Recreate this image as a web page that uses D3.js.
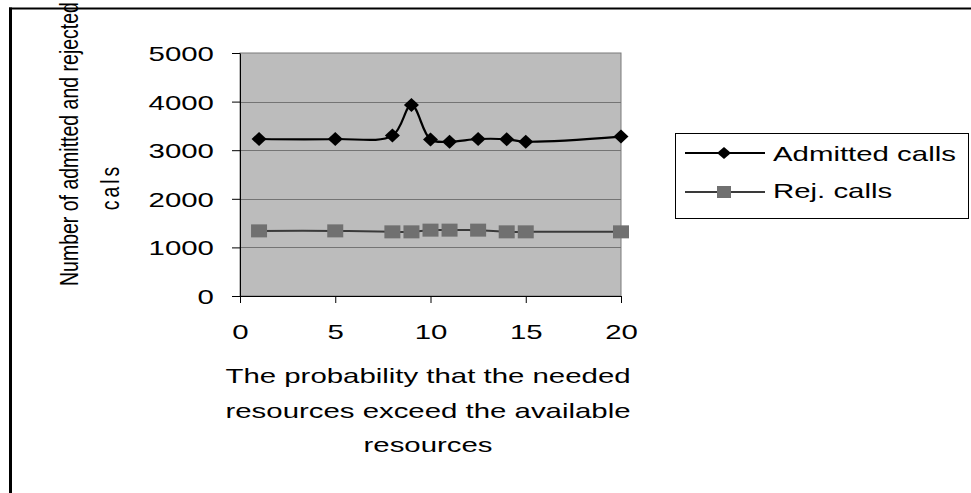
<!DOCTYPE html>
<html>
<head>
<meta charset="utf-8">
<script src="https://cdn.jsdelivr.net/npm/d3@7/dist/d3.min.js"></script>
<style>
  html, body { margin: 0; padding: 0; background: #ffffff; }
  svg { display: block; }
  text { font-family: "Liberation Sans", Arial, sans-serif; fill: #000; }
</style>
</head>
<body>
<svg id="chart" width="971" height="493"></svg>
<script>
// Probability values (x) and call counts for each series
const probability = [1, 5, 8, 9, 10, 11, 12.5, 14, 15, 20];
const admittedCalls = [3230, 3230, 3300, 3930, 3220, 3175, 3230, 3225, 3175, 3280];
const rejectedCalls = [1340, 1340, 1320, 1320, 1355, 1355, 1355, 1320, 1320, 1320];
const xTicks = [0, 5, 10, 15, 20];
const yTicks = [0, 1000, 2000, 3000, 4000, 5000];
const seriesNames = ["Admitted calls", "Rej. calls"];
const xTitleLines = ["The probability that the needed", "resources exceed the available", "resources"];
const yTitleLines = ["Number of admitted and rejected", "cals"];

const W = 971, H = 493;
const plot = { left: 240, right: 621, top: 53, bottom: 296 };
const FONT = 21;     // px
const STRETCH = 1.4; // wide lettering

const svg = d3.select("#chart");

const x = d3.scaleLinear().domain([0, 20]).range([plot.left, plot.right]);
const y = d3.scaleLinear().domain([0, 5000]).range([plot.bottom, plot.top]);

// Outer frame (top and left edges)
svg.append("line").attr("x1", 9).attr("x2", W).attr("y1", 8.5).attr("y2", 8.5)
  .attr("stroke", "#000").attr("stroke-width", 2);
svg.append("line").attr("x1", 10.5).attr("x2", 10.5).attr("y1", 7.5).attr("y2", H)
  .attr("stroke", "#000").attr("stroke-width", 3);

// Plot area
svg.append("rect")
  .attr("x", plot.left).attr("y", plot.top)
  .attr("width", plot.right - plot.left).attr("height", plot.bottom - plot.top)
  .attr("fill", "#bcbcbc").attr("stroke", "#7a7a7a").attr("stroke-width", 1);

// Horizontal gridlines
svg.append("g").selectAll("line")
  .data(yTicks.filter(d => d > 0 && d < 5000))
  .join("line")
  .attr("x1", plot.left).attr("x2", plot.right)
  .attr("y1", d => Math.round(y(d)) + 0.5).attr("y2", d => Math.round(y(d)) + 0.5)
  .attr("stroke", "#747474").attr("stroke-width", 1);

// Y axis
const yAxis = svg.append("g")
  .attr("transform", `translate(${plot.left},0)`)
  .call(d3.axisLeft(y).tickValues(yTicks).tickSizeInner(8).tickSizeOuter(0).tickPadding(10.6).tickFormat(d3.format("d")));
yAxis.select(".domain").attr("stroke", "#000");
yAxis.selectAll(".tick line").attr("stroke", "#000");
yAxis.selectAll(".tick text")
  .attr("font-size", FONT).attr("font-family", null).attr("fill", "#000")
  .attr("transform", `scale(${STRETCH},1)`).attr("dy", "0.36em");

// X axis
const xAxis = svg.append("g")
  .attr("transform", `translate(0,${plot.bottom})`)
  .call(d3.axisBottom(x).tickValues(xTicks).tickSizeInner(7).tickSizeOuter(0).tickFormat(d3.format("d")));
xAxis.select(".domain").attr("stroke", "#000");
xAxis.selectAll(".tick line").attr("stroke", "#000");
xAxis.selectAll(".tick text")
  .attr("font-size", FONT).attr("font-family", null).attr("fill", "#000")
  .attr("y", 43).attr("dy", 0)
  .attr("transform", `scale(${STRETCH},1)`);

// Series
const pts = (vals) => probability.map((p, i) => [x(p), y(vals[i])]);
const lineGen = d3.line().curve(d3.curveCatmullRom.alpha(0.5));

svg.append("path").attr("d", lineGen(pts(rejectedCalls)))
  .attr("fill", "none").attr("stroke", "#3a3a3a").attr("stroke-width", 2);
svg.append("path").attr("d", lineGen(pts(admittedCalls)))
  .attr("fill", "none").attr("stroke", "#000").attr("stroke-width", 2.2);

const diamond = (cx, cy, w, h) => `M${cx},${cy - h / 2}L${cx + w / 2},${cy}L${cx},${cy + h / 2}L${cx - w / 2},${cy}Z`;

svg.append("g").selectAll("rect")
  .data(pts(rejectedCalls))
  .join("rect")
  .attr("x", d => d[0] - 8).attr("y", d => d[1] - 6.5)
  .attr("width", 16).attr("height", 13)
  .attr("fill", "#707070");

svg.append("g").selectAll("path")
  .data(pts(admittedCalls))
  .join("path")
  .attr("d", d => diamond(d[0], d[1], 15, 14))
  .attr("fill", "#000");

// Axis titles
const xt = svg.append("g");
xTitleLines.forEach((t, i) => {
  xt.append("text")
    .attr("transform", `translate(428,${383 + i * 34.5}) scale(${STRETCH},1)`)
    .attr("text-anchor", "middle").attr("font-size", FONT).text(t);
});

const Y_FONT = 19.5, Y_STRETCH = 1.3;
svg.append("text")
  .attr("transform", `translate(78,286) scale(${Y_STRETCH},1) rotate(-90)`)
  .attr("text-anchor", "start").attr("font-size", Y_FONT).text(yTitleLines[0]);
svg.append("text")
  .attr("transform", `translate(119,187) scale(${Y_STRETCH},1) rotate(-90)`)
  .attr("text-anchor", "middle").attr("font-size", Y_FONT)
  .attr("letter-spacing", 3).text(yTitleLines[1]);

// Legend
const lg = svg.append("g");
lg.append("rect").attr("x", 675.5).attr("y", 133.5).attr("width", 293).attr("height", 85)
  .attr("fill", "#fff").attr("stroke", "#000").attr("stroke-width", 1);
const rows = [
  { name: seriesNames[0], y: 153, base: 161 },
  { name: seriesNames[1], y: 192, base: 198 }
];
// Admitted row
lg.append("line").attr("x1", 685).attr("x2", 765).attr("y1", rows[0].y).attr("y2", rows[0].y)
  .attr("stroke", "#000").attr("stroke-width", 2.2);
lg.append("path").attr("d", diamond(724, rows[0].y, 14, 12)).attr("fill", "#000");
// Rejected row
lg.append("line").attr("x1", 685).attr("x2", 765).attr("y1", rows[1].y).attr("y2", rows[1].y)
  .attr("stroke", "#3a3a3a").attr("stroke-width", 2);
lg.append("rect").attr("x", 717).attr("y", rows[1].y - 6).attr("width", 14).attr("height", 12).attr("fill", "#707070");
rows.forEach(r => {
  lg.append("text")
    .attr("transform", `translate(773,${r.base}) scale(${STRETCH},1)`)
    .attr("font-size", FONT).text(r.name);
});
</script>
</body>
</html>
